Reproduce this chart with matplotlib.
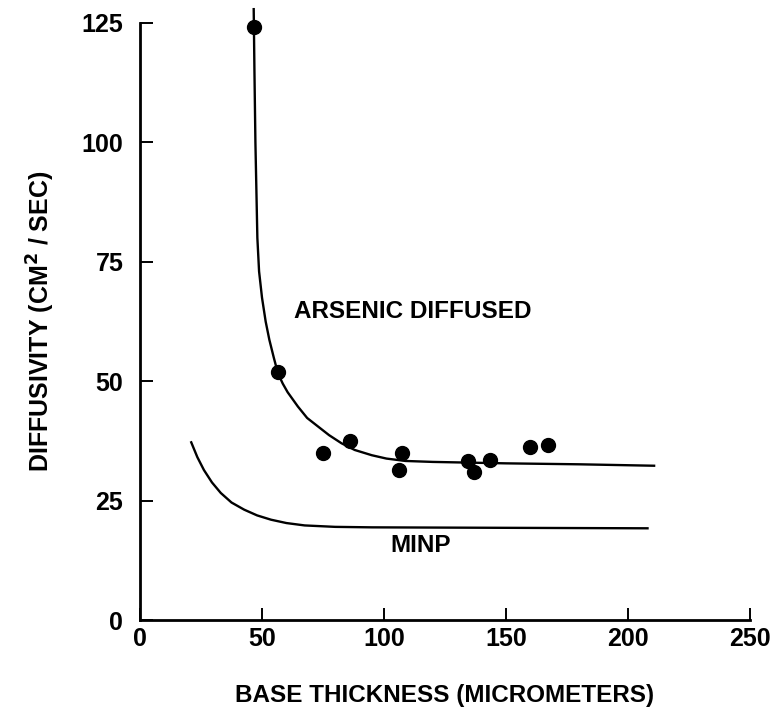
import matplotlib
matplotlib.use("Agg")
import matplotlib.pyplot as plt

# Data
pts_x = [46.7, 56.6, 75.1, 86.1, 107.4, 106.3, 134.3, 136.8, 143.5, 159.8, 167.1]
pts_y = [124.1, 51.9, 34.9, 37.4, 34.9, 31.4, 33.2, 31.0, 33.5, 36.2, 36.7]

arsenic_x = [46.6, 46.9, 47.3, 47.7, 48.1, 48.8, 50.0, 51.5, 53.0, 54.8, 56.5, 58.5, 60.5,
             64.7, 68.5, 73.0, 77.5, 82.6, 88.0, 95.0, 101.0, 108.8, 120.0, 150.0, 180.0, 210.7]
arsenic_y = [127.9, 115.0, 100.0, 90.0, 80.0, 73.0, 67.5, 62.5, 58.7, 55.0, 51.7, 49.5, 47.7,
             44.7, 42.3, 40.5, 38.7, 37.0, 35.6, 34.5, 33.8, 33.3, 33.1, 32.8, 32.6, 32.3]

minp_x = [21.0, 23.5, 26.2, 29.5, 33.1, 37.5, 42.7, 48.0, 53.7, 60.0, 67.5, 80.0, 95.0, 150.0, 208.0]
minp_y = [37.2, 34.1, 31.4, 28.8, 26.6, 24.6, 23.1, 21.9, 21.0, 20.3, 19.8, 19.5, 19.4, 19.3, 19.2]

xticks = [0, 50, 100, 150, 200, 250]
yticks = [0, 25, 50, 75, 100, 125]

plt.rcParams['font.family'] = ['Liberation Sans', 'DejaVu Sans']

fig = plt.figure(figsize=(7.76, 7.08), dpi=100)
ax = fig.add_axes([140/776, 88/708, 610/776, 597/708])

ax.plot(arsenic_x, arsenic_y, color='black', lw=1.7, clip_on=False, solid_joinstyle='round')
ax.plot(minp_x, minp_y, color='black', lw=1.7, clip_on=False, solid_joinstyle='round')
ax.plot(pts_x, pts_y, 'o', color='black', ms=10, clip_on=False)

ax.set_xlim(0, 250)
ax.set_ylim(0, 125)
ax.set_xticks(xticks)
ax.set_yticks(yticks)
ax.set_xticklabels([str(t) for t in xticks], fontsize=18, fontweight='bold')
ax.set_yticklabels([str(t) for t in yticks], fontsize=18, fontweight='bold')
ax.tick_params(direction='in', length=9, width=1.4, pad=12)
ax.tick_params(axis='x', pad=5)
for s in ['top', 'right']:
    ax.spines[s].set_visible(False)
for s in ['left', 'bottom']:
    ax.spines[s].set_linewidth(2.0)

ax.set_xlabel('BASE THICKNESS (MICROMETERS)', fontsize=17.5, fontweight='bold', labelpad=24)
ax.set_ylabel('DIFFUSIVITY (CM$^{\\mathbf{2}}$ / SEC)', fontsize=18, fontweight='bold', labelpad=18)

ax.text(111.6, 64.6, 'ARSENIC DIFFUSED', fontsize=17.5, fontweight='bold', ha='center', va='center')
ax.text(115, 15.7, 'MINP', fontsize=17.5, fontweight='bold', ha='center', va='center')

fig.savefig('out.png', dpi=100)
